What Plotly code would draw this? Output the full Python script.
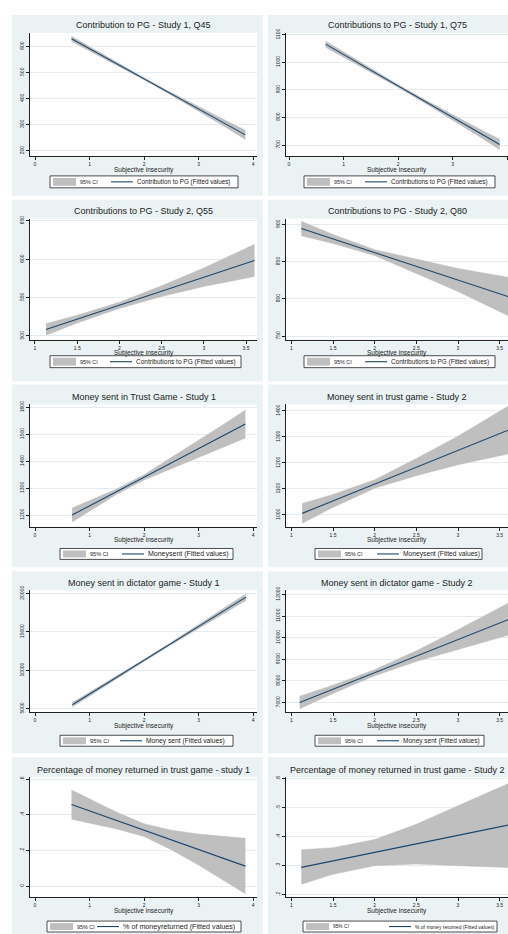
import plotly.graph_objects as go

W, H = 508, 934

# ---------------- text ----------------
titles = [
    "Contribution to PG - Study 1, Q45",
    "Contributions to PG - Study 1, Q75",
    "Contributions to PG - Study 2, Q55",
    "Contributions to PG - Study 2, Q80",
    "Money sent in Trust Game - Study 1",
    "Money sent in trust game - Study 2",
    "Money sent in dictator game - Study 1",
    "Money sent in dictator game - Study 2",
    "Percentage of money returned in trust game - study 1",
    "Percentage of money returned in trust game - Study 2",
]
fit_labels = [
    "Contribution to PG (Fitted values)",
    "Contributions to PG (Fitted values)",
    "Contributions to PG (Fitted values)",
    "Contributions to PG (Fitted values)",
    "Moneysent (Fitted values)",
    "Moneysent (Fitted values)",
    "Money sent (Fitted values)",
    "Money sent (Fitted values)",
    "% of moneyreturned (Fitted values)",
    "% of money returned (Fitted values)",
]
ci_label = "95% CI"
x_title = "Subjective insecurity"

# ---------------- data ----------------
x_p1 = [0.67, 1.0, 1.5, 2.0, 2.5, 3.0, 3.5, 3.86]
fit_p1 = [629, 591, 533, 476, 418, 360, 303, 261]
lo_p1 = [619, 583, 528, 472, 413, 352, 290, 243]
hi_p1 = [639, 599, 538, 480, 423, 368, 316, 279]

x_p2 = [0.67, 1.0, 1.5, 2.0, 2.5, 3.0, 3.5, 3.86]
fit_p2 = [1066, 1028, 971, 914, 857, 800, 743, 702]
lo_p2 = [1055, 1019, 965, 909, 851, 791, 729, 683]
hi_p2 = [1077, 1037, 977, 919, 863, 809, 757, 721]

x_p3 = [1.13, 1.5, 2.0, 2.5, 3.0, 3.6]
fit_p3 = [508.6, 522, 540, 558.5, 576.6, 598.5]
lo_p3 = [501, 517, 536, 551.5, 564.6, 577.5]
hi_p3 = [516, 527, 544, 565.5, 588.6, 619.5]

x_p4 = [1.12, 1.5, 2.0, 2.5, 3.0, 3.6]
fit_p4 = [894.7, 880.7, 862.3, 843.8, 825.4, 803.3]
lo_p4 = [885, 874.7, 858.3, 834, 810, 777.5]
hi_p4 = [904.3, 886.7, 866.3, 854, 841, 829]

x_p5 = [0.68, 1.0, 1.5, 2.0, 2.5, 3.0, 3.5, 3.86]
fit_p5 = [1200, 1234, 1287, 1340, 1393, 1446, 1499, 1538]
lo_p5 = [1174, 1215, 1277, 1330, 1373, 1414, 1456, 1486]
hi_p5 = [1226, 1253, 1297, 1350, 1413, 1478, 1542, 1590]

x_p6 = [1.13, 1.5, 2.0, 2.5, 3.0, 3.6]
fit_p6 = [1006, 1054, 1119, 1184, 1248, 1326]
lo_p6 = [968, 1029, 1103, 1151, 1193, 1234]
hi_p6 = [1044, 1079, 1135, 1217, 1303, 1418]

x_p7 = [0.685, 1.0, 1.5, 2.0, 2.5, 3.0, 3.5, 3.87]
fit_p7 = [5517, 6903, 9102, 11301, 13500, 15700, 17899, 19526]
lo_p7 = [5237, 6673, 8932, 11161, 13340, 15480, 17569, 19096]
hi_p7 = [5797, 7133, 9272, 11441, 13660, 15920, 18229, 19956]

x_p8 = [1.1, 1.5, 2.0, 2.5, 3.0, 3.6]
fit_p8 = [7000, 7613, 8380, 9146, 9913, 10834]
lo_p8 = [6710, 7420, 8240, 8896, 9453, 10110]
hi_p8 = [7290, 7806, 8520, 9396, 10373, 11590]

x_p9 = [0.67, 1.0, 1.5, 2.0, 2.5, 3.0, 3.5, 3.86]
fit_p9 = [0.458, 0.422, 0.368, 0.314, 0.259, 0.205, 0.151, 0.112]
lo_p9 = [0.376, 0.354, 0.321, 0.278, 0.204, 0.118, 0.025, -0.044]
hi_p9 = [0.540, 0.490, 0.415, 0.350, 0.314, 0.292, 0.277, 0.268]

x_p10 = [1.12, 1.5, 2.0, 2.5, 3.0, 3.6]
fit_p10 = [0.294, 0.316, 0.346, 0.375, 0.405, 0.440]
lo_p10 = [0.236, 0.270, 0.300, 0.306, 0.300, 0.294]
hi_p10 = [0.355, 0.362, 0.390, 0.443, 0.507, 0.583]

xs_all = [x_p1, x_p2, x_p3, x_p4, x_p5, x_p6, x_p7, x_p8, x_p9, x_p10]
fit_all = [fit_p1, fit_p2, fit_p3, fit_p4, fit_p5, fit_p6, fit_p7, fit_p8, fit_p9, fit_p10]
lo_all = [lo_p1, lo_p2, lo_p3, lo_p4, lo_p5, lo_p6, lo_p7, lo_p8, lo_p9, lo_p10]
hi_all = [hi_p1, hi_p2, hi_p3, hi_p4, hi_p5, hi_p6, hi_p7, hi_p8, hi_p9, hi_p10]

# ---------------- ticks ----------------
yticks = [
    [200, 300, 400, 500, 600],
    [700, 800, 900, 1000, 1100],
    [500, 550, 600, 650],
    [750, 800, 850, 900],
    [1200, 1300, 1400, 1500, 1600],
    [1000, 1100, 1200, 1300, 1400],
    [5000, 10000, 15000, 20000],
    [7000, 8000, 9000, 10000, 11000, 12000],
    [0, 0.2, 0.4, 0.6],
    [0.2, 0.3, 0.4, 0.5, 0.6],
]
yticktext = [
    None, None, None, None, None, None, None, None,
    ["0", ".2", ".4", ".6"],
    [".2", ".3", ".4", ".5", ".6"],
]
xtick_study1 = [0, 1, 2, 3, 4]
xtick_study2 = [1, 1.5, 2, 2.5, 3, 3.5]
xtick_text_study2 = ["1", "1.5", "2", "2.5", "3", "3.5"]
panel_study = [1, 1, 2, 2, 1, 2, 1, 2, 1, 2]

# ---------------- layout geometry (px) ----------------
COL_PLOT = [(30, 257), (286, 508)]
COL_BG = [(12, 263), (268, 512)]
ROW_PLOT = [(28, 152), (215, 337), (402, 525), (589, 712), (777, 898)]
ROW_BG = [(10, 192), (196, 379), (382, 566), (570, 753), (757, 940)]
ROW_LEG = [(172, 184), (353, 365), (547, 558), (735, 746), (922, 933)]
LEG_LR = [(50, 238), (304, 495), (50, 241), (304, 495), (60, 233),
          (315, 482), (60, 233), (315, 484), (47, 241), (303, 497)]
LEG_OFF = [61, 61, 60, 61, 62, 62, 60, 62, 50, 86]
LEG_FIT_FONT = [6.3, 6.3, 6.5, 6.4, 7.0, 6.7, 6.7, 6.5, 7.2, 5.0]
LEG_CI_FONT = [5.4, 5.4, 5.4, 5.4, 5.6, 5.3, 5.8, 5.4, 5.4, 4.8]
RANGE_S1_LEFT = [-0.092, 4.073]
RANGE_S1_RIGHT = [-0.055, 4.012]
RANGE_S2_LEFT = [0.941, 3.63]
RANGE_S2_RIGHT = [0.936, 3.60]
Y_RANGES = [[180, 652], [660, 1107], [495, 653], [745, 908], [1157, 1611],
            [955, 1425], [4520, 20430], [6545, 12195], [-0.063, 0.613], [0.191, 0.606]]

BG = "#eaf2f3"
CI = "#bfbfbf"
NAVY = "#1a476f"
GRID = "#e4ecef"
AXIS = "#222222"
TXT = "#222222"
FONT = "Liberation Sans, Arial, sans-serif"


def px(v):
    return v / W


def py(v):
    return 1 - v / H


fig = go.Figure()
shapes = []
annotations = []
layout_axes = {}

for i in range(10):
    r, c = divmod(i, 2)
    n = i + 1
    xa = "x" if n == 1 else f"x{n}"
    ya = "y" if n == 1 else f"y{n}"
    xkey = "xaxis" if n == 1 else f"xaxis{n}"
    ykey = "yaxis" if n == 1 else f"yaxis{n}"

    # panel background and plot region
    shapes.append(dict(type="rect", xref="paper", yref="paper",
                       x0=px(COL_BG[c][0]), x1=px(COL_BG[c][1]),
                       y0=py(ROW_BG[r][1]), y1=py(ROW_BG[r][0]),
                       fillcolor=BG, line_width=0, layer="below"))
    shapes.append(dict(type="rect", xref="paper", yref="paper",
                       x0=px(COL_PLOT[c][0]), x1=px(COL_PLOT[c][1]),
                       y0=py(ROW_PLOT[r][1]), y1=py(ROW_PLOT[r][0]),
                       fillcolor="white", line_width=0, layer="below"))

    xs, fit, lo, hi = xs_all[i], fit_all[i], lo_all[i], hi_all[i]
    fig.add_trace(go.Scatter(x=xs, y=lo, mode="lines", line=dict(width=0.5, color=CI),
                             xaxis=xa, yaxis=ya, showlegend=False, hoverinfo="skip",
                             name=ci_label))
    fig.add_trace(go.Scatter(x=xs, y=hi, mode="lines", line=dict(width=0.5, color=CI),
                             fill="tonexty", fillcolor=CI, xaxis=xa, yaxis=ya,
                             showlegend=False, name=ci_label))
    fig.add_trace(go.Scatter(x=xs, y=fit, mode="lines", line=dict(width=1.1, color=NAVY),
                             xaxis=xa, yaxis=ya, showlegend=False, name=fit_labels[i]))

    if panel_study[i] == 1:
        xt, xtt = xtick_study1, [str(v) for v in xtick_study1]
        xr = RANGE_S1_LEFT if c == 0 else RANGE_S1_RIGHT
    else:
        xt, xtt = xtick_study2, xtick_text_study2
        xr = RANGE_S2_LEFT if c == 0 else RANGE_S2_RIGHT

    layout_axes[xkey] = dict(
        domain=[px(COL_PLOT[c][0]), px(COL_PLOT[c][1])], range=xr,
        anchor=ya, tickvals=xt, ticktext=xtt, showgrid=False, zeroline=False,
        showline=True, linecolor=AXIS, linewidth=1, ticks="outside", ticklen=3,
        tickwidth=1, tickcolor=AXIS, tickfont=dict(size=5, color=TXT, family=FONT),
        fixedrange=True)
    yax = dict(
        domain=[py(ROW_PLOT[r][1]), py(ROW_PLOT[r][0])], range=Y_RANGES[i],
        anchor=xa, tickvals=yticks[i], tickangle=-90, showgrid=True, gridcolor=GRID,
        gridwidth=1, zeroline=False, showline=True, linecolor=AXIS, linewidth=1,
        ticks="outside", ticklen=3, tickwidth=1, tickcolor=AXIS,
        tickfont=dict(size=5, color=TXT, family=FONT), fixedrange=True)
    if yticktext[i] is not None:
        yax["ticktext"] = yticktext[i]
    else:
        yax["ticktext"] = [str(v) for v in yticks[i]]
    layout_axes[ykey] = yax

    # title
    annotations.append(dict(text=titles[i], xref=f"{xa} domain", yref=f"{ya} domain",
                            x=0.5, y=1, xanchor="center", yanchor="middle", yshift=7.5,
                            showarrow=False, font=dict(size=9, color=TXT, family=FONT)))
    # x axis title
    annotations.append(dict(text=x_title, xref=f"{xa} domain", yref=f"{ya} domain",
                            x=0.5, y=0, xanchor="center", yanchor="middle", yshift=-13.5,
                            showarrow=False, borderpad=0,
                            font=dict(size=6.5, color=TXT, family=FONT)))

    # legend box
    L, R = LEG_LR[i]
    T, B = ROW_LEG[r]
    mid = (T + B) / 2
    shapes.append(dict(type="rect", xref="paper", yref="paper",
                       x0=px(L), x1=px(R), y0=py(B), y1=py(T),
                       fillcolor="white", line=dict(color=AXIS, width=0.8)))
    shapes.append(dict(type="rect", xref="paper", yref="paper",
                       x0=px(L + 3), x1=px(L + 26), y0=py(B - 2), y1=py(T + 2),
                       fillcolor=CI, line_width=0))
    shapes.append(dict(type="line", xref="paper", yref="paper",
                       x0=px(L + LEG_OFF[i]), x1=px(L + LEG_OFF[i] + 22),
                       y0=py(mid), y1=py(mid), line=dict(color=NAVY, width=1.1)))
    annotations.append(dict(text=ci_label, xref="paper", yref="paper",
                            x=px(L + 29), y=py(mid), xanchor="left", yanchor="middle",
                            showarrow=False, borderpad=0,
                            font=dict(size=LEG_CI_FONT[i], color=TXT, family=FONT)))
    annotations.append(dict(text=fit_labels[i], xref="paper", yref="paper",
                            x=px(L + LEG_OFF[i] + 25), y=py(mid), xanchor="left",
                            yanchor="middle", showarrow=False, borderpad=0,
                            font=dict(size=LEG_FIT_FONT[i], color=TXT, family=FONT)))

fig.update_layout(
    width=W, height=H, autosize=False,
    margin=dict(l=0, r=0, t=0, b=0),
    paper_bgcolor="white", plot_bgcolor="white",
    showlegend=False, shapes=shapes, annotations=annotations,
    font=dict(family=FONT, color=TXT),
    **layout_axes,
)

fig.write_html("out.html", config={"displayModeBar": False},
               post_script="document.body.style.margin='0';document.body.style.overflow='hidden';")
